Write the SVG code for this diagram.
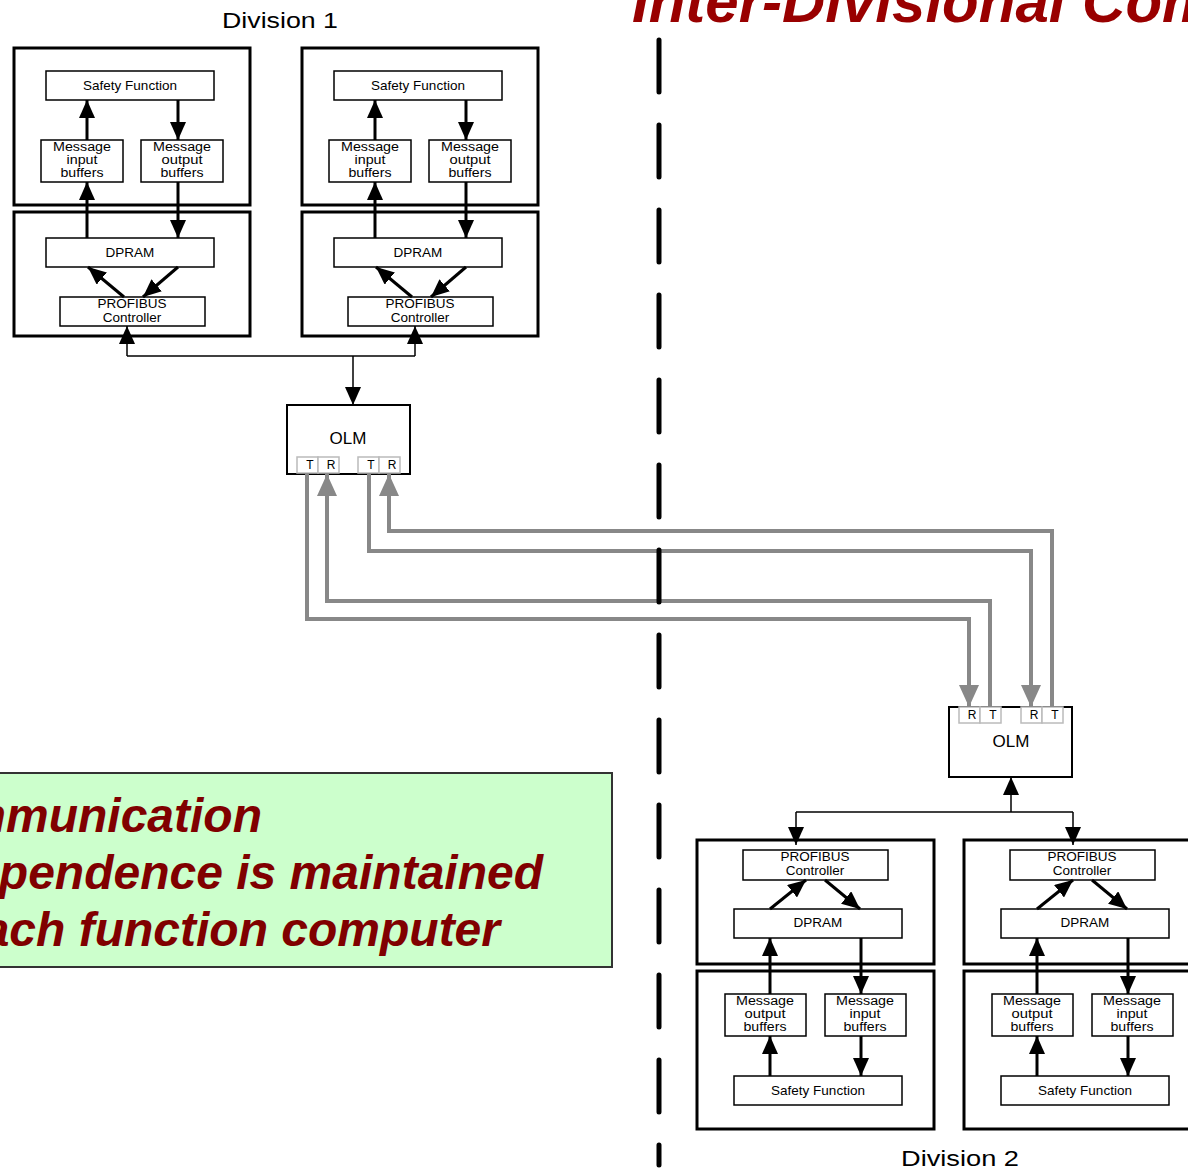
<svg xmlns="http://www.w3.org/2000/svg" width="1188" height="1170" viewBox="0 0 1188 1170">
<defs>
<style>
.ob{fill:#fff;stroke:#000;stroke-width:3}
.ib{fill:#fff;stroke:#000;stroke-width:1.5}
.t{font-family:"Liberation Sans",Arial,sans-serif;font-size:13.5px;text-anchor:middle;fill:#000}
.tb{font-size:12.5px}
.c{stroke:#000;stroke-width:3;fill:none;marker-end:url(#ah)}
.g{stroke:#888;stroke-width:4;fill:none}
.ga{stroke:#888;stroke-width:4;fill:none;marker-end:url(#gh)}
.port{fill:#fff;stroke:#bbb;stroke-width:1.5}
.pt{font-family:"Liberation Sans",Arial,sans-serif;font-size:12px;text-anchor:middle;fill:#000}
.olm{fill:#fff;stroke:#000;stroke-width:2}
.ot{font-family:"Liberation Sans",Arial,sans-serif;font-size:17px;text-anchor:middle;fill:#000}
.div{font-family:"Liberation Sans",Arial,sans-serif;font-size:22px;text-anchor:middle;fill:#000}
.big{font-family:"Liberation Sans",Arial,sans-serif;font-weight:bold;font-style:italic;fill:#800000;font-size:48px;text-anchor:end}
</style>
<marker id="ah" viewBox="0 0 18 16" refX="18" refY="8" markerWidth="18" markerHeight="16" orient="auto" markerUnits="userSpaceOnUse"><path d="M0,0 L18,8 L0,16 z" fill="#000"/></marker>
<marker id="gh" viewBox="0 0 22 20" refX="22" refY="10" markerWidth="22" markerHeight="20" orient="auto" markerUnits="userSpaceOnUse"><path d="M0,0 L22,10 L0,20 z" fill="#888"/></marker>
</defs>

<g id="title">
<text x="632" y="22" style="font-family:'Liberation Sans',Arial,sans-serif;font-weight:bold;font-style:italic;font-size:60px;fill:#990000">Inter-Divisional Communication</text>
</g>

<g id="note">
<rect x="-10" y="773" width="622" height="194" fill="#ccffcc" stroke="#333" stroke-width="2"/>
<text class="big" x="262" y="832">Communication</text>
<text class="big" x="543" y="889">Independence is maintained</text>
<text class="big" x="500" y="946">each function computer</text>
</g>

<text class="div" x="280" y="28" textLength="116" lengthAdjust="spacingAndGlyphs">Division 1</text>
<text class="div" x="960" y="1166" textLength="118" lengthAdjust="spacingAndGlyphs">Division 2</text>

<!-- Division 1 unit A -->
<g id="d1a">
<rect class="ob" x="14" y="48" width="236" height="157"/>
<rect class="ob" x="14" y="212" width="236" height="124"/>
<g id="d1a-sf"><rect class="ib" x="46" y="71" width="168" height="29"/><text class="t" x="130" y="90">Safety Function</text></g>
<g id="d1a-in"><rect class="ib" x="41" y="140" width="82" height="42"/><text class="t tb" x="82" y="151" textLength="58" lengthAdjust="spacingAndGlyphs">Message</text><text class="t tb" x="82" y="164" textLength="31" lengthAdjust="spacingAndGlyphs">input</text><text class="t tb" x="82" y="177" textLength="43" lengthAdjust="spacingAndGlyphs">buffers</text></g>
<g id="d1a-out"><rect class="ib" x="141" y="140" width="82" height="42"/><text class="t tb" x="182" y="151" textLength="58" lengthAdjust="spacingAndGlyphs">Message</text><text class="t tb" x="182" y="164" textLength="41" lengthAdjust="spacingAndGlyphs">output</text><text class="t tb" x="182" y="177" textLength="43" lengthAdjust="spacingAndGlyphs">buffers</text></g>
<g id="d1a-dp"><rect class="ib" x="46" y="238" width="168" height="29"/><text class="t" x="130" y="257">DPRAM</text></g>
<g id="d1a-pb"><rect class="ib" x="60" y="297" width="145" height="29"/><text class="t" x="132" y="308">PROFIBUS</text><text class="t" x="132" y="322">Controller</text></g>
</g>

<!-- Division 1 unit B -->
<g id="d1b">
<rect class="ob" x="302" y="48" width="236" height="157"/>
<rect class="ob" x="302" y="212" width="236" height="124"/>
<g id="d1b-sf"><rect class="ib" x="334" y="71" width="168" height="29"/><text class="t" x="418" y="90">Safety Function</text></g>
<g id="d1b-in"><rect class="ib" x="329" y="140" width="82" height="42"/><text class="t tb" x="370" y="151" textLength="58" lengthAdjust="spacingAndGlyphs">Message</text><text class="t tb" x="370" y="164" textLength="31" lengthAdjust="spacingAndGlyphs">input</text><text class="t tb" x="370" y="177" textLength="43" lengthAdjust="spacingAndGlyphs">buffers</text></g>
<g id="d1b-out"><rect class="ib" x="429" y="140" width="82" height="42"/><text class="t tb" x="470" y="151" textLength="58" lengthAdjust="spacingAndGlyphs">Message</text><text class="t tb" x="470" y="164" textLength="41" lengthAdjust="spacingAndGlyphs">output</text><text class="t tb" x="470" y="177" textLength="43" lengthAdjust="spacingAndGlyphs">buffers</text></g>
<g id="d1b-dp"><rect class="ib" x="334" y="238" width="168" height="29"/><text class="t" x="418" y="257">DPRAM</text></g>
<g id="d1b-pb"><rect class="ib" x="348" y="297" width="145" height="29"/><text class="t" x="420" y="308">PROFIBUS</text><text class="t" x="420" y="322">Controller</text></g>
</g>

<!-- OLM 1 -->
<g id="olm1">
<rect class="olm" x="287" y="405" width="123" height="69"/>
<text class="ot" x="348" y="444">OLM</text>
<rect class="port" x="297" y="457" width="21" height="16"/><text class="pt" x="310" y="469">T</text>
<rect class="port" x="318" y="457" width="21" height="16"/><text class="pt" x="331" y="469">R</text>
<rect class="port" x="358" y="457" width="21" height="16"/><text class="pt" x="371" y="469">T</text>
<rect class="port" x="379" y="457" width="21" height="16"/><text class="pt" x="392" y="469">R</text>
</g>

<!-- OLM 2 -->
<g id="olm2">
<rect class="olm" x="949" y="707" width="123" height="70"/>
<text class="ot" x="1011" y="747">OLM</text>
<rect class="port" x="959" y="707" width="21" height="16"/><text class="pt" x="972" y="719">R</text>
<rect class="port" x="980" y="707" width="21" height="16"/><text class="pt" x="993" y="719">T</text>
<rect class="port" x="1021" y="707" width="21" height="16"/><text class="pt" x="1034" y="719">R</text>
<rect class="port" x="1042" y="707" width="21" height="16"/><text class="pt" x="1055" y="719">T</text>
</g>

<!-- Division 2 unit A -->
<g id="d2a">
<rect class="ob" x="697" y="840" width="237" height="124"/>
<rect class="ob" x="697" y="971" width="237" height="158"/>
<g id="d2a-pb"><rect class="ib" x="743" y="850" width="145" height="30"/><text class="t" x="815" y="861">PROFIBUS</text><text class="t" x="815" y="875">Controller</text></g>
<g id="d2a-dp"><rect class="ib" x="734" y="909" width="168" height="29"/><text class="t" x="818" y="927">DPRAM</text></g>
<g id="d2a-out"><rect class="ib" x="725" y="994" width="81" height="42"/><text class="t tb" x="765" y="1005" textLength="58" lengthAdjust="spacingAndGlyphs">Message</text><text class="t tb" x="765" y="1018" textLength="41" lengthAdjust="spacingAndGlyphs">output</text><text class="t tb" x="765" y="1031" textLength="43" lengthAdjust="spacingAndGlyphs">buffers</text></g>
<g id="d2a-in"><rect class="ib" x="825" y="994" width="81" height="42"/><text class="t tb" x="865" y="1005" textLength="58" lengthAdjust="spacingAndGlyphs">Message</text><text class="t tb" x="865" y="1018" textLength="31" lengthAdjust="spacingAndGlyphs">input</text><text class="t tb" x="865" y="1031" textLength="43" lengthAdjust="spacingAndGlyphs">buffers</text></g>
<g id="d2a-sf"><rect class="ib" x="734" y="1076" width="168" height="29"/><text class="t" x="818" y="1095">Safety Function</text></g>
</g>

<!-- Division 2 unit B -->
<g id="d2b">
<rect class="ob" x="964" y="840" width="237" height="124"/>
<rect class="ob" x="964" y="971" width="237" height="158"/>
<g id="d2b-pb"><rect class="ib" x="1010" y="850" width="145" height="30"/><text class="t" x="1082" y="861">PROFIBUS</text><text class="t" x="1082" y="875">Controller</text></g>
<g id="d2b-dp"><rect class="ib" x="1001" y="909" width="168" height="29"/><text class="t" x="1085" y="927">DPRAM</text></g>
<g id="d2b-out"><rect class="ib" x="992" y="994" width="81" height="42"/><text class="t tb" x="1032" y="1005" textLength="58" lengthAdjust="spacingAndGlyphs">Message</text><text class="t tb" x="1032" y="1018" textLength="41" lengthAdjust="spacingAndGlyphs">output</text><text class="t tb" x="1032" y="1031" textLength="43" lengthAdjust="spacingAndGlyphs">buffers</text></g>
<g id="d2b-in"><rect class="ib" x="1092" y="994" width="81" height="42"/><text class="t tb" x="1132" y="1005" textLength="58" lengthAdjust="spacingAndGlyphs">Message</text><text class="t tb" x="1132" y="1018" textLength="31" lengthAdjust="spacingAndGlyphs">input</text><text class="t tb" x="1132" y="1031" textLength="43" lengthAdjust="spacingAndGlyphs">buffers</text></g>
<g id="d2b-sf"><rect class="ib" x="1001" y="1076" width="168" height="29"/><text class="t" x="1085" y="1095">Safety Function</text></g>
</g>

<g id="connectors">
<!-- Division 1 unit A -->
<path class="c" d="M87,140 V100"/>
<path class="c" d="M178,100 V140"/>
<path class="c" d="M87,238 V182"/>
<path class="c" d="M178,182 V238"/>
<path class="c" d="M124,297 L88,267"/>
<path class="c" d="M178,267 L143,297"/>
<!-- Division 1 unit B -->
<path class="c" d="M375,140 V100"/>
<path class="c" d="M466,100 V140"/>
<path class="c" d="M375,238 V182"/>
<path class="c" d="M466,182 V238"/>
<path class="c" d="M412,297 L376,267"/>
<path class="c" d="M466,267 L431,297"/>
<!-- bus Division 1 -->
<path d="M127,356 H415" stroke="#000" stroke-width="1.5" fill="none"/>
<path class="c" d="M127,356 V326" style="stroke-width:1.5"/>
<path class="c" d="M415,356 V326" style="stroke-width:1.5"/>
<path class="c" d="M353,356 V405" style="stroke-width:1.5"/>
<!-- fibre links -->
<path class="ga" d="M307,474 V619 H969 V707"/>
<path class="ga" d="M990,707 V601 H327 V474"/>
<path class="ga" d="M369,474 V551 H1031 V707"/>
<path class="ga" d="M1052,707 V531 H389 V474"/>
<!-- bus Division 2 -->
<path d="M796,812 H1073" stroke="#000" stroke-width="1.5" fill="none"/>
<path class="c" d="M1011,812 V777" style="stroke-width:1.5"/>
<path class="c" d="M796,812 V845" style="stroke-width:1.5"/>
<path class="c" d="M1073,812 V845" style="stroke-width:1.5"/>
<!-- Division 2 unit A -->
<path class="c" d="M770,909 L806,880"/>
<path class="c" d="M825,880 L860,909"/>
<path class="c" d="M770,994 V938"/>
<path class="c" d="M861,938 V994"/>
<path class="c" d="M770,1076 V1036"/>
<path class="c" d="M861,1036 V1076"/>
<!-- Division 2 unit B -->
<path class="c" d="M1037,909 L1073,880"/>
<path class="c" d="M1092,880 L1127,909"/>
<path class="c" d="M1037,994 V938"/>
<path class="c" d="M1128,938 V994"/>
<path class="c" d="M1037,1076 V1036"/>
<path class="c" d="M1128,1036 V1076"/>
</g>

<g id="divider">
<path d="M659,40 V1165" stroke="#000" stroke-width="5" stroke-dasharray="52 33" stroke-linecap="round" fill="none"/>
</g>
</svg>
